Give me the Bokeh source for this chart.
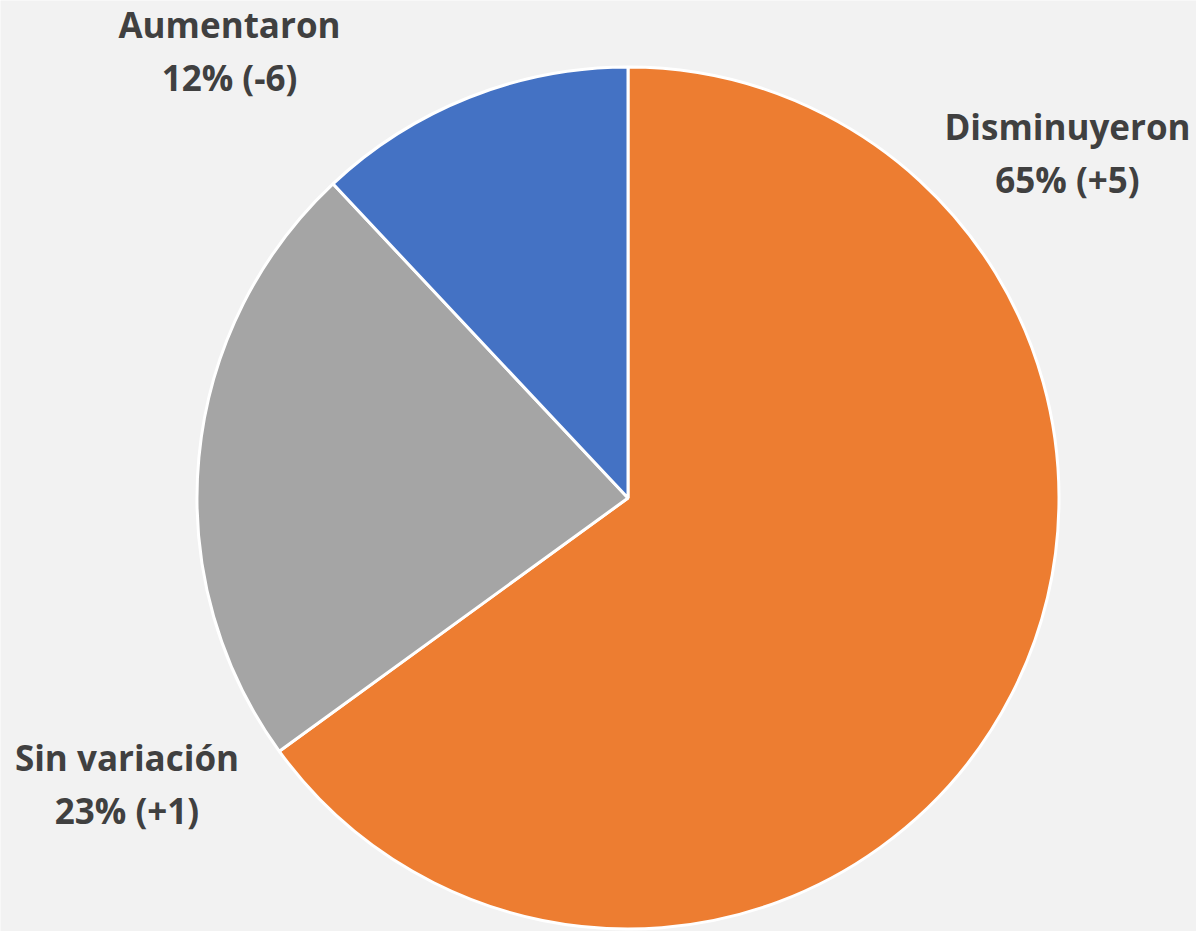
import numpy as np
from bokeh.plotting import figure
from bokeh.models import ColumnDataSource, Range1d
from bokeh.core.properties import value
from bokeh.embed import file_html
from bokeh.resources import INLINE

# ---- data ----
categories = ["Disminuyeron", "Sin variación", "Aumentaron"]
shares = [65, 23, 12]
changes = ["+5", "+1", "-6"]
colors = ["#ED7D31", "#A5A5A5", "#4472C4"]

# ---- layout (pixel-like data units) ----
W, H = 1196, 931
cx, cy, R = 627.5, 433.5, 431
label_x = [1067, 126.5, 229]
label_y1 = [805, 174, 907]
label_gap = 53

frac = np.array(shares, dtype=float) / np.sum(shares)
cum = np.concatenate([[0.0], np.cumsum(frac)])
start = np.pi / 2 - cum[:-1] * 2 * np.pi
end = np.pi / 2 - cum[1:] * 2 * np.pi

src = ColumnDataSource(dict(
    x=[cx] * len(shares), y=[cy] * len(shares),
    start=start, end=end, color=colors,
))

p = figure(width=W, height=H, output_backend="svg", toolbar_location=None,
           x_range=Range1d(0, W), y_range=Range1d(0, H), min_border=0,
           background_fill_color="#f2f2f2", border_fill_color="#f2f2f2",
           outline_line_color=None)
p.axis.visible = False
p.grid.visible = False

p.wedge(x="x", y="y", radius=R, start_angle="start", end_angle="end",
        direction="clock", fill_color="color", line_color="white",
        line_width=3, source=src)

line1 = categories
line2 = [f"{s}% ({c})" for s, c in zip(shares, changes)]
lab = ColumnDataSource(dict(
    x=label_x + label_x,
    y=label_y1 + [y - label_gap for y in label_y1],
    t=line1 + line2,
))
p.text(x="x", y="y", text="t", source=lab, text_align="center",
       text_baseline="alphabetic", text_font=value("Open Sans"),
       text_font_style="bold", text_font_size="35px", text_color="#404040")

html = file_html(p, INLINE)
open("out.html", "w").write(html)
